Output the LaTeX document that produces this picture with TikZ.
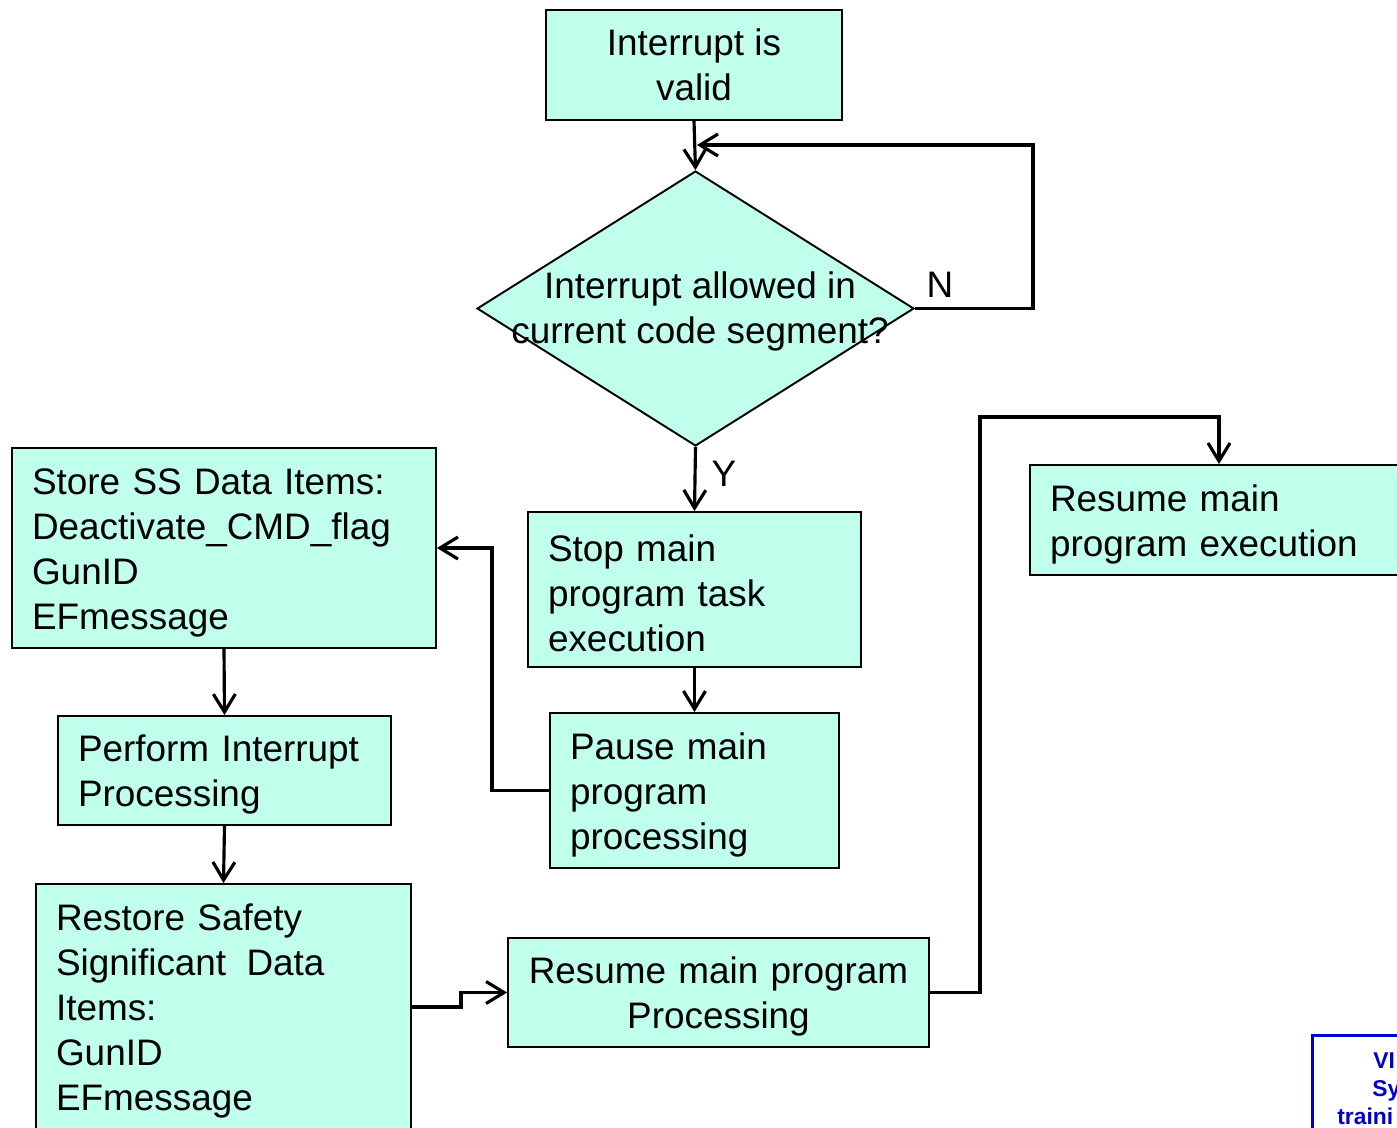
\documentclass[tikz,border=0pt]{standalone}
\usepackage{fontspec}
\setmainfont{Liberation Sans}
\usetikzlibrary{shapes.geometric,arrows.meta}
\definecolor{aqua}{RGB}{192,255,236}
\definecolor{tagblue}{RGB}{0,0,204}
\tikzset{
  box/.style={draw=black, line width=1.1pt, fill=aqua, inner xsep=0.4cm, inner ysep=0pt,
    font=\fontsize{21}{25.6}\selectfont},
  lbox/.style={box, align=left, execute at begin node={\rule{0pt}{20pt}}},
  cbox/.style={box, align=center},
  arr/.style={line width=1.8pt, -{Straight Barb[length=0.36cm,width=0.44cm,line width=1.8pt]}},
  lbl/.style={font=\fontsize{21}{25.6}\selectfont, inner sep=0pt},
  tagtext/.style={font=\fontsize{13}{15.9}\selectfont\bfseries, text=tagblue, inner sep=0pt}
}
\begin{document}
\begin{tikzpicture}[x=0.02cm, y=-0.02cm]
\useasboundingbox (0,0) rectangle (1397,1127);
\clip (0,0) rectangle (1397,1127);

\node[cbox, minimum width=5.92cm, minimum height=2.2cm] (valid) at (694,65) {Interrupt is\\valid};
\node[draw=black, line width=1.1pt, fill=aqua, shape=diamond, minimum width=8.74cm, minimum height=5.5cm, inner sep=0pt] (dia) at (695.5,308.5) {};
\node[lbl, align=center] (diatext) at (700,311) {Interrupt allowed in\\current code segment?};
\node[lbl] (nlbl) at (940,285) {N};
\node[lbl] (ylbl) at (724,474) {Y};

\node[lbox, minimum width=6.66cm, minimum height=3.1cm, text width=5.86cm] (stop) at (694.5,589.5) {Stop main\\program task\\execution};
\node[lbox, minimum width=5.78cm, minimum height=3.1cm, text width=4.98cm] (pause) at (694.5,790.5) {Pause main\\program\\processing};
\node[lbox, minimum width=8.48cm, minimum height=4.0cm, text width=7.68cm] (store) at (224,548) {Store SS Data Items:\\Deactivate\_CMD\_flag\\GunID\\EFmessage};
\node[lbox, minimum width=6.66cm, minimum height=2.18cm, text width=5.86cm] (perform) at (224.5,770.5) {Perform Interrupt\\Processing};
\node[lbox, minimum width=7.5cm, minimum height=4.92cm, text width=6.7cm] (restore) at (223.5,1007) {Restore Safety\\Significant\hspace{0.55em}Data\\Items:\\GunID\\EFmessage};
\node[box, align=center, execute at begin node={\rule{0pt}{20pt}}, minimum width=8.42cm, minimum height=2.18cm, text width=7.62cm] (resproc) at (718.5,992.5) {Resume main program\\Processing};
\node[lbox, minimum width=7.6cm, minimum height=2.2cm, text width=6.8cm] (resume) at (1220,520) {Resume main\\program execution};

% connectors
\draw[arr] (valid.south) -- (dia.north);
\coordinate (loopin) at (697,145);
\coordinate (loopcorner) at (1033,145);
\draw[arr] (dia.east) -- (dia.east -| loopcorner) -- (loopcorner) -- (loopin);
\draw[arr] (dia.south) -- (stop.north);
\draw[arr] (stop.south) -- (pause.north);
\draw[arr] (pause.west) -- ++(-57,0) |- (store.east);
\draw[arr] (store.south) -- (perform.north);
\draw[arr] (perform.south) -- (restore.north);
\draw[arr] (restore.east) -- ++(49,0) |- (resproc.west);
\coordinate (topc) at (1219,417);
\draw[arr] (resproc.east) -- ++(50,0) |- (topc) -- (topc |- resume.north);

% corner tag
\node[draw=tagblue, line width=1.8pt, fill=white, minimum width=2.3cm, minimum height=2.4cm, anchor=north west, inner sep=0pt] (tag) at (1311,1034) {};
\node[tagtext, anchor=base west] (tag1) at (1373,1068) {VI};
\node[tagtext, anchor=base west] (tag2) at (1372,1096) {Sy};
\node[tagtext, anchor=base west] (tag3) at (1337,1124) {traini};
\end{tikzpicture}
\end{document}
